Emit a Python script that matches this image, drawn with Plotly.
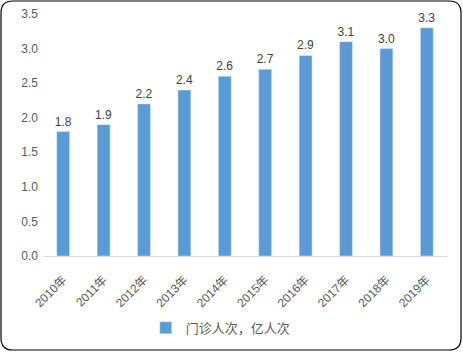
import plotly.graph_objects as go

years = ["2010年", "2011年", "2012年", "2013年", "2014年", "2015年", "2016年", "2017年", "2018年", "2019年"]
visits = [1.8, 1.9, 2.2, 2.4, 2.6, 2.7, 2.9, 3.1, 3.0, 3.3]
series_name = "门诊人次，亿人次"
y_ticks = [0.0, 0.5, 1.0, 1.5, 2.0, 2.5, 3.0, 3.5]

W, H = 463, 352
L, R, T, B = 43, 16, 14, 96
pw, ph = W - L - R, H - T - B

FONT = "Liberation Sans, Noto Sans CJK SC, sans-serif"

fig = go.Figure()
fig.add_trace(go.Bar(
    x=years, y=visits, name=series_name,
    marker_color="#5b9bd5",
    text=[f"{v:.1f}" for v in visits], textposition="outside",
    textfont=dict(color="#404040", size=12, family=FONT),
    constraintext="none",
    cliponaxis=False,
))

def P(x, y):
    a, b = (x - L) / pw, (H - B - y) / ph
    return f"{a:.5f},{b:.5f}"

x0, y0 = 1, 1
x1, y1 = W - 2, H - 2
r = 12
path = (f"M {P(x0 + r, y0)} L {P(x1 - r, y0)} Q {P(x1, y0)} {P(x1, y0 + r)} "
        f"L {P(x1, y1 - r)} Q {P(x1, y1)} {P(x1 - r, y1)} "
        f"L {P(x0 + r, y1)} Q {P(x0, y1)} {P(x0, y1 - r)} "
        f"L {P(x0, y0 + r)} Q {P(x0, y0)} {P(x0 + r, y0)} Z")
fig.add_shape(type="path", path=path, xref="paper", yref="paper",
              line=dict(color="#000000", width=1.2))

fig.update_layout(
    width=W, height=H,
    margin=dict(l=L, r=R, t=T, b=B, autoexpand=False),
    paper_bgcolor="white", plot_bgcolor="white",
    bargap=0.68,
    font=dict(family=FONT, color="#595959", size=12),
    showlegend=True,
    legend=dict(orientation="h", x=0.44, xanchor="center", y=-0.235, yanchor="top",
                bgcolor="rgba(0,0,0,0)",
                font=dict(size=13, color="#595959")),
    xaxis=dict(tickangle=-45, showline=True, linecolor="#d9d9d9", linewidth=1,
               automargin=False,
               ticks="", ticklabelstandoff=11, tickfont=dict(size=12, color="#595959")),
    yaxis=dict(range=[0, 3.5], tickvals=y_ticks, ticktext=[f"{v:.1f}" for v in y_ticks],
               showgrid=False, zeroline=False, showline=False, ticks="",
               automargin=False, ticklabelstandoff=4,
               tickfont=dict(size=12, color="#595959")),
)

fig.write_html("out.html")
